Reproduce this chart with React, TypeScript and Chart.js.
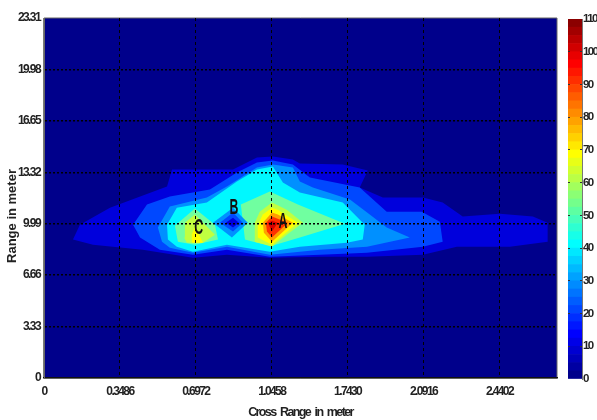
import React, { useEffect, useRef } from "react";
import { Chart, registerables } from "chart.js";

Chart.register(...registerables);

// Axis labels
const crossTickValues = [0, 0.3486, 0.6972, 1.0458, 1.3944, 1.743, 2.0916];
const crossTickLabels = ["0", "0.3486", "0.6972", "1.0458", "1.7430", "2.0916", "2.4402"];
const rangeTicks = [0, 3.33, 6.66, 9.99, 13.32, 16.65, 19.98, 23.31];
const crossMax = 2.356;
const rangeMax = 23.31;

// Contour outlines (cross range in metres, range in metres)
const bg = { x: [0, 2.356, 2.356, 0, 0], y: [0, 0, 23.31, 23.31, 0] };
const l1 = {
  x: [0.133, 0.165, 0.303, 0.565, 0.588, 0.868, 0.978, 1.051, 1.143, 1.175, 1.372, 1.487, 1.45, 1.556, 1.74, 1.831, 1.923, 2.093, 2.245, 2.313, 2.313, 2.139, 1.896, 1.74, 1.483, 1.267, 1.037, 0.84, 0.684, 0.454, 0.225],
  y: [8.96, 9.93, 11.03, 12.4, 13.5, 13.5, 14.28, 14.34, 14.15, 13.89, 13.82, 13.43, 12.33, 11.68, 11.68, 11.36, 10.45, 10.64, 10.45, 10.06, 8.83, 8.5, 8.5, 7.98, 7.85, 7.85, 7.79, 7.98, 7.79, 8.31, 8.63],
};
const l2 = {
  x: [0.409, 0.473, 0.578, 0.762, 0.886, 0.978, 1.051, 1.143, 1.221, 1.45, 1.574, 1.735, 1.818, 1.831, 1.74, 1.483, 1.267, 1.037, 0.84, 0.684, 0.532, 0.441],
  y: [9.93, 11.23, 11.75, 12.2, 13.3, 13.95, 14.08, 13.82, 12.98, 12.33, 10.77, 10.77, 10.12, 8.83, 8.5, 8.11, 7.98, 7.85, 8.31, 7.98, 8.31, 9.09],
};
const l3 = {
  x: [0.523, 0.578, 0.748, 0.84, 0.978, 1.051, 1.143, 1.175, 1.235, 1.405, 1.496, 1.574, 1.68, 1.483, 1.267, 1.037, 0.84, 0.684, 0.578, 0.542],
  y: [9.74, 11.1, 11.68, 12.4, 13.63, 13.82, 13.63, 12.72, 12.33, 11.55, 10.58, 9.74, 9.09, 8.5, 8.31, 7.98, 8.5, 8.11, 8.44, 8.83],
};
const l4 = {
  x: [0.565, 0.61, 0.748, 0.886, 0.978, 1.051, 1.097, 1.175, 1.372, 1.473, 1.464, 1.391, 1.175, 1.037, 0.84, 0.684, 0.61, 0.569],
  y: [9.93, 11.03, 11.36, 12.72, 13.5, 13.69, 12.66, 12.01, 11.36, 9.93, 8.96, 8.76, 8.5, 8.18, 8.63, 8.18, 8.5, 8.96],
};
const l5Left = { x: [0.601, 0.693, 0.785, 0.799, 0.693, 0.615], y: [9.86, 10.97, 9.93, 8.96, 8.63, 8.83] };
const l5Right = { x: [0.923, 0.904, 1.037, 1.166, 1.382, 1.175, 1.047, 0.978], y: [8.96, 11.23, 12.07, 11.23, 9.99, 9.09, 8.57, 8.76] };
const l6Left = { x: [0.643, 0.647, 0.693, 0.785, 0.73, 0.656], y: [9.09, 10.06, 10.58, 9.28, 8.76, 8.76] };
const l6Right = { x: [0.968, 0.968, 0.991, 1.047, 1.115, 1.189, 1.115, 1.047], y: [8.83, 10.06, 10.77, 11.36, 10.9, 10.06, 9.28, 8.5] };
const l7Left = { x: [0.679, 0.679, 0.693, 0.73], y: [8.76, 9.28, 9.8, 8.76] };
const l7Right = { x: [0.982, 1.005, 1.047, 1.074, 1.166, 1.047, 0.982], y: [9.93, 10.58, 11.03, 10.9, 10.06, 8.63, 9.09] };
const l8 = { x: [1.005, 1.047, 1.074, 1.143, 1.047, 1.01], y: [10.06, 10.71, 10.58, 10.06, 8.83, 9.41] };
const l9 = { x: [1.019, 1.047, 1.12, 1.047, 1.024], y: [10.06, 10.45, 10.06, 9.09, 9.48] };
const l10 = { x: [1.028, 1.047, 1.074, 1.047], y: [10.06, 10.19, 10.06, 9.48] };
const dip1 = { x: [0.776, 0.868, 0.936, 0.863], y: [10.06, 11.03, 10.06, 9.09] };
const dip2 = { x: [0.808, 0.868, 0.913, 0.868], y: [10.06, 10.71, 10.06, 9.48] };
const dip3 = { x: [0.835, 0.868, 0.895, 0.868], y: [10.06, 10.38, 10.06, 9.74] };

const NAVY = "#00008b";
const BLUE1 = "#0000dc";
const BLUE2 = "#0048ff";
const BLUE3 = "#0090ff";
const CYAN = "#00f8ff";
const GREEN = "#70ffa0";
const LIME = "#c0ff40";
const YELLOW = "#ffff00";
const ORANGE = "#ffa000";
const REDOR = "#ff3000";
const RED = "#d80000";

const bands: [{ x: number[]; y: number[] }, string][] = [
  [bg, NAVY], [l1, BLUE1], [l2, BLUE2], [l3, BLUE3], [l4, CYAN],
  [l5Left, GREEN], [l5Right, GREEN], [l6Left, LIME], [l6Right, LIME],
  [l7Left, YELLOW], [l7Right, YELLOW], [l8, ORANGE], [l9, REDOR], [l10, RED],
  [dip1, BLUE3], [dip2, BLUE2], [dip3, BLUE1],
];

// Target letters
const markLabels = ["A", "B", "C"];
const markX = [1.097, 0.872, 0.711];
const markY = [10.12, 11.03, 9.74];

// Colour bar
const barEdges = [0, 2.5, 5, 7.5, 10, 12.5, 15, 17.5, 20, 22.5, 25, 27.5, 30, 32.5, 35, 37.5, 40, 42.5, 45, 47.5, 50, 52.5, 55, 57.5, 60, 62.5, 65, 67.5, 70, 72.5, 75, 77.5, 80, 82.5, 85, 87.5, 90, 92.5, 95, 97.5, 100, 102.5, 105, 107.5, 110];
const barColors = ["#00008b", "#0000a2", "#0000ba", "#0000d1", "#0000e8", "#0000ff", "#0017ff", "#002eff", "#0046ff", "#005dff", "#0074ff", "#008bff", "#00a2ff", "#00baff", "#00d1ff", "#00e8ff", "#00ffff", "#17ffe8", "#2effd1", "#46ffba", "#5dffa2", "#74ff8b", "#8bff74", "#a2ff5d", "#baff46", "#d1ff2e", "#e8ff17", "#ffff00", "#ffe800", "#ffd100", "#ffba00", "#ffa200", "#ff8b00", "#ff7400", "#ff5d00", "#ff4600", "#ff2e00", "#ff1700", "#ff0000", "#e80000", "#d10000", "#ba0000", "#a20000", "#8b0000"];

const SANS = "'Liberation Sans', Arial, sans-serif";
const INK = "#222222";
const yTitle = "Range in meter";

const tightText = {
  id: "tightText",
  beforeDraw(chart: any) {
    chart.ctx.letterSpacing = "-1.6px";
    chart.ctx.wordSpacing = "2.5px";
  },
};

const letterPlugin = {
  id: "letters",
  afterDraw(chart: any) {
    const { ctx, scales } = chart;
    ctx.save();
    ctx.letterSpacing = "0px";
    ctx.wordSpacing = "0px";
    ctx.fillStyle = "#111111";
    ctx.font = `700 22px ${SANS}`;
    ctx.textAlign = "center";
    ctx.textBaseline = "middle";
    markLabels.forEach((t, i) => {
      ctx.save();
      ctx.translate(scales.x.getPixelForValue(markX[i]), scales.y.getPixelForValue(markY[i]));
      ctx.scale(0.56, 1);
      ctx.fillText(t, 0, 0);
      ctx.restore();
    });
    ctx.translate(12.5, 216);
    ctx.rotate(-Math.PI / 2);
    ctx.fillStyle = INK;
    ctx.font = `700 13px ${SANS}`;
    ctx.fillText(yTitle, 0, 0);
    ctx.restore();
  },
};

const abs: React.CSSProperties = { position: "absolute", left: 0, top: 0, display: "block" };

export default function App() {
  const mainRef = useRef<HTMLCanvasElement>(null);
  const barRef = useRef<HTMLCanvasElement>(null);

  useEffect(() => {
    const main = new Chart(mainRef.current!, {
      type: "scatter",
      data: {
        datasets: bands
          .map(([b, color], idx) => ({
            data: b.x.map((x, i) => ({ x, y: b.y[i] })),
            showLine: true,
            fill: "shape",
            backgroundColor: color,
            borderColor: idx === 0 ? "#666666" : color,
            borderWidth: idx === 0 ? 1 : 0,
            pointRadius: 0,
            tension: 0,
            clip: false,
          }))
          .reverse(),
      },
      options: {
        responsive: false,
        animation: false,
        events: [],
        layout: { padding: { left: 0, right: 40, top: 18, bottom: 0 } },
        plugins: { legend: { display: false }, tooltip: { enabled: false } },
        scales: {
          x: {
            type: "linear",
            min: 0,
            max: crossMax,
            afterBuildTicks: (s: any) => { s.ticks = crossTickValues.map((value) => ({ value })); },
            afterFit: (s: any) => { s.height = 42; },
            grid: {
              z: 1,
              drawTicks: false,
              color: (c: any) => (c.tick && c.tick.value === 0 ? "rgba(0,0,0,0)" : "#000000"),
              lineWidth: 1,
            },
            border: { color: "#111111", width: 1.5, dash: [3, 3], z: 2 },
            ticks: {
              color: INK,
              padding: 6,
              maxRotation: 0,
              autoSkip: false,
              font: { family: SANS, size: 12, weight: "bold" },
              callback: (_v: any, i: number) => crossTickLabels[i],
            },
            title: {
              display: true,
              text: "Cross Range in meter",
              color: INK,
              padding: { top: 4, bottom: 0 },
              font: { family: SANS, size: 12.5, weight: "bold" },
            },
          },
          y: {
            type: "linear",
            min: 0,
            max: rangeMax,
            afterBuildTicks: (s: any) => { s.ticks = rangeTicks.map((value) => ({ value })); },
            afterFit: (s: any) => { s.width = 44; },
            grid: {
              z: 1,
              drawTicks: false,
              color: (c: any) =>
                c.tick && (c.tick.value === 0 || c.tick.value === rangeMax) ? "rgba(0,0,0,0)" : "#000000",
              lineWidth: 1.5,
            },
            border: { color: "#666666", width: 1, dash: [2, 2], z: 2 },
            ticks: {
              color: INK,
              padding: 4,
              autoSkip: false,
              font: { family: SANS, size: 12, weight: "bold" },
              callback: (v: any) => String(v),
            },
          },
        },
      } as any,
      plugins: [tightText, letterPlugin],
    });

    const bar = new Chart(barRef.current!, {
      type: "bar",
      data: {
        labels: ["scale"],
        datasets: barColors.map((color, i) => ({
          data: [[barEdges[i], barEdges[i + 1]]] as any,
          backgroundColor: color,
          borderWidth: 0,
          barPercentage: 1,
          categoryPercentage: 1,
          grouped: false,
        })),
      },
      options: {
        responsive: false,
        animation: false,
        events: [],
        layout: { padding: { left: 568, right: 0, top: 19, bottom: 41 } },
        plugins: { legend: { display: false }, tooltip: { enabled: false } },
        scales: {
          x: { display: false },
          y: {
            position: "right",
            min: 0,
            max: 110,
            afterFit: (s: any) => { s.width = 15; },
            grid: {
              z: 1,
              drawTicks: false,
              color: (c: any) =>
                c.tick && (c.tick.value === 0 || c.tick.value === 110) ? "rgba(0,0,0,0)" : "#333333",
            },
            border: { color: "#777777", z: 2, dash: [2, 10, 2, 100] },
            ticks: {
              stepSize: 10,
              color: INK,
              padding: 1,
              font: { family: SANS, size: 11.5, weight: "bold" },
            },
          },
        },
      } as any,
      plugins: [tightText],
    });

    return () => {
      main.destroy();
      bar.destroy();
    };
  }, []);

  return (
    <div style={{ position: "absolute", left: 0, top: 0, width: 597, height: 420, background: "#fff" }}>
      <canvas ref={mainRef} width={597} height={420} style={abs} />
      <canvas ref={barRef} width={597} height={420} style={abs} />
    </div>
  );
}
